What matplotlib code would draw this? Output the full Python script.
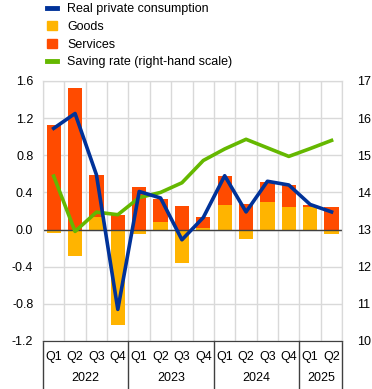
#! /usr/bin/env python3
import numpy as np
import matplotlib.pyplot as plt
from matplotlib.patches import Patch
from matplotlib.lines import Line2D

plt.rcParams['font.family'] = ['Liberation Sans', 'DejaVu Sans']

# Data (quarter-on-quarter % change, saving rate in %)
quarters = ['Q1', 'Q2', 'Q3', 'Q4', 'Q1', 'Q2', 'Q3', 'Q4',
            'Q1', 'Q2', 'Q3', 'Q4', 'Q1', 'Q2']
years = ['2022', '2023', '2024', '2025']
year_lengths = [4, 4, 4, 2]

goods = [-0.04, -0.28, 0.14, -1.03, -0.05, 0.08, -0.36, 0.02,
         0.26, -0.10, 0.30, 0.24, 0.24, -0.05]
services = [1.13, 1.52, 0.45, 0.16, 0.46, 0.25, 0.25, 0.11,
            0.32, 0.28, 0.21, 0.24, 0.02, 0.24]
consumption = [1.09, 1.25, 0.59, -0.86, 0.41, 0.34, -0.11, 0.13,
               0.58, 0.19, 0.52, 0.48, 0.27, 0.19]
saving_rate = [14.44, 12.95, 13.47, 13.40, 13.86, 14.00, 14.26, 14.86,
               15.17, 15.43, 15.20, 14.97, 15.18, 15.40]

blue = '#003299'
yellow = '#FFB400'
orange = '#FF4B00'
green = '#65B800'
grid_c = '#d9d9d9'
dark = '#404040'
fs = 9

x = np.arange(len(quarters))
goods = np.array(goods)
services = np.array(services)
services_bottom = np.where(goods > 0, goods, 0)

fig = plt.figure(figsize=(3.72, 3.89), dpi=100)
ax = fig.add_axes([0.1156, 0.1234, 0.8044, 0.6684])
ax2 = ax.twinx()

# bars on the left axis, lines on top (right axis layer)
ax.bar(x, goods, width=0.67, color=yellow, zorder=2)
ax.bar(x, services, width=0.67, bottom=services_bottom, color=orange, zorder=2)
ax.axhline(0, color=dark, lw=1, zorder=3)

ax2.plot(x, saving_rate, color=green, lw=2.6, zorder=4)
ax2.plot(x, consumption, color=blue, lw=2.6, zorder=5, transform=ax.transData)

ax.set_xlim(-0.5, len(x) - 0.5)
ax.set_ylim(-1.2, 1.6)
yt = np.arange(-1.2, 1.61, 0.4)
ax.set_yticks(yt)
ax.set_yticklabels(['%.1f' % v for v in yt])
ax2.set_ylim(10, 17)
ax2.set_yticks(range(10, 18))

ax.set_xticks(x)
ax.set_xticklabels(quarters)
ax.set_xticks(np.arange(-0.5, len(x)), minor=True)
ax.grid(True, which='minor', axis='x', color=grid_c, lw=1, zorder=0)
ax.grid(True, which='major', axis='y', color=grid_c, lw=1, zorder=0)
ax.tick_params(axis='x', which='both', length=0, labelsize=fs, pad=7)
ax.tick_params(axis='y', length=0, labelsize=fs, pad=7)
ax2.tick_params(axis='y', length=0, labelsize=fs, pad=11)

for a in (ax, ax2):
    for s in ('left', 'right', 'top'):
        a.spines[s].set_color(grid_c)
    a.spines['bottom'].set_color(dark)

# year separators and labels
trans = ax.get_xaxis_transform()
edge = -0.5
for yr, n in zip(years, year_lengths):
    ax.plot([edge, edge], [0, -0.185], color=dark, lw=1,
            transform=trans, clip_on=False)
    ax.text(edge + n / 2, -0.142, yr, transform=trans, ha='center',
            va='center', fontsize=fs)
    edge += n
ax.plot([edge, edge], [0, -0.185], color=dark, lw=1,
        transform=trans, clip_on=False)

handles = [Line2D([], [], color=blue, lw=3.5),
           Patch(color=yellow),
           Patch(color=orange),
           Line2D([], [], color=green, lw=3.5)]
labels = ['Real private consumption', 'Goods', 'Services',
          'Saving rate (right-hand scale)']
fig.legend(handles, labels, loc='upper left', bbox_to_anchor=(0.112, 1.005),
           frameon=False, fontsize=fs, handlelength=0.8, handleheight=0.8,
           labelspacing=0.45, handletextpad=0.85, borderaxespad=0)

fig.savefig('out.png', dpi=100)
